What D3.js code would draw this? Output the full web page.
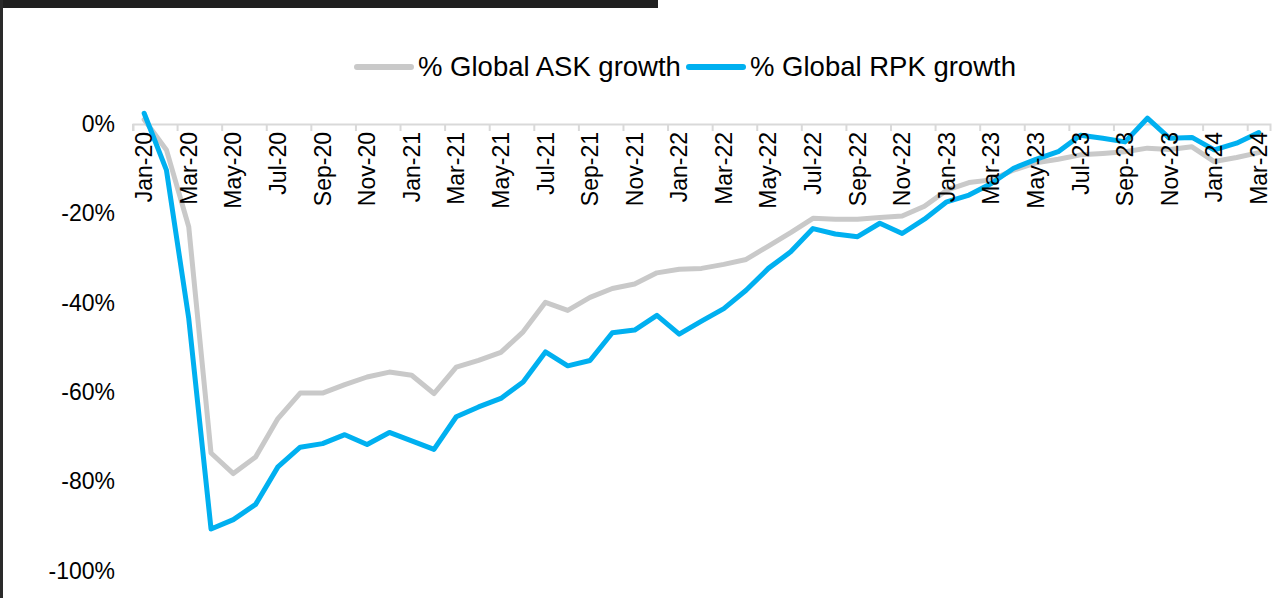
<!DOCTYPE html>
<html>
<head>
<meta charset="utf-8">
<script src="https://cdn.jsdelivr.net/npm/d3@7"></script>
<style>
  body { margin: 0; background: #fff; }
  svg { display: block; font-family: "Liberation Sans", Arial, sans-serif; }
</style>
</head>
<body>
<div id="chart"></div>
<script>
// months Jan-20 .. Mar-24
var months = ["Jan-20","Feb-20","Mar-20","Apr-20","May-20","Jun-20","Jul-20","Aug-20","Sep-20","Oct-20","Nov-20","Dec-20",
  "Jan-21","Feb-21","Mar-21","Apr-21","May-21","Jun-21","Jul-21","Aug-21","Sep-21","Oct-21","Nov-21","Dec-21",
  "Jan-22","Feb-22","Mar-22","Apr-22","May-22","Jun-22","Jul-22","Aug-22","Sep-22","Oct-22","Nov-22","Dec-22",
  "Jan-23","Feb-23","Mar-23","Apr-23","May-23","Jun-23","Jul-23","Aug-23","Sep-23","Oct-23","Nov-23","Dec-23",
  "Jan-24","Feb-24","Mar-24"];

var askGrowth = [1.0,-5.8,-23.0,-73.6,-78.2,-74.5,-65.9,-60.2,-60.2,-58.3,-56.6,-55.5,
  -56.2,-60.3,-54.4,-52.9,-51.1,-46.5,-39.9,-41.7,-38.8,-36.8,-35.8,-33.3,
  -32.5,-32.3,-31.4,-30.3,-27.3,-24.3,-21.1,-21.3,-21.3,-20.9,-20.6,-18.4,
  -14.8,-13.1,-12.5,-10.3,-8.7,-7.9,-6.9,-6.6,-6.2,-5.4,-5.7,-5.1,
  -8.4,-7.5,-6.4];

var rpkGrowth = [2.4,-10.3,-43.5,-90.6,-88.5,-85.1,-76.7,-72.3,-71.5,-69.5,-71.7,-69.0,
  -70.9,-72.8,-65.5,-63.3,-61.4,-57.7,-51.0,-54.1,-52.9,-46.7,-46.1,-42.8,
  -47.0,-44.1,-41.3,-37.2,-32.3,-28.6,-23.4,-24.6,-25.2,-22.2,-24.5,-21.3,
  -17.4,-15.9,-13.3,-9.9,-7.9,-6.2,-2.5,-3.2,-4.0,1.3,-3.2,-3.0,
  -5.8,-4.3,-1.9];

var yTicks = [0, -20, -40, -60, -80, -100];
var seriesNames = ["% Global ASK growth", "% Global RPK growth"];
var seriesColors = ["#c9c9c9", "#00b0f0"];

var W = 1277, H = 598;

var svg = d3.select("#chart").append("svg")
    .attr("width", W)
    .attr("height", H);

// screenshot edges
svg.append("rect").attr("x", 0).attr("y", 0).attr("width", 658).attr("height", 8).attr("fill", "#202020");
svg.append("rect").attr("x", 0).attr("y", 0).attr("width", 3).attr("height", H).attr("fill", "#2a2a2a");

var x = d3.scaleBand().domain(months).range([133, 1270]).padding(0);
var y = d3.scaleLinear().domain([-100, 0]).range([571, 124]);
var bw = x.bandwidth();

// y labels
svg.append("g")
    .attr("transform", "translate(115,0)")
    .call(d3.axisLeft(y).tickValues(yTicks).tickSize(0).tickPadding(0)
          .tickFormat(function(d) { return d + "%"; }))
    .call(function(g) {
        g.select(".domain").remove();
        g.selectAll("text").attr("font-size", 23).attr("fill", "#000")
            .attr("font-family", "Liberation Sans, Arial, sans-serif");
    });

// x axis line + ticks at 0% (under the series)
var labelMonths = months.filter(function(d, i) { return i % 2 === 0; });
svg.append("g")
    .attr("transform", "translate(0," + y(0) + ")")
    .call(d3.axisBottom(x).tickValues(labelMonths).tickSizeOuter(0).tickSize(7).tickFormat(""))
    .call(function(g) {
        g.select(".domain").attr("stroke", "#d9d9d9").attr("stroke-width", 2);
        g.selectAll(".tick line").attr("stroke", "#d9d9d9").attr("stroke-width", 2)
            .attr("x1", -bw / 2).attr("x2", -bw / 2);
    });

var line = d3.line()
    .x(function(d, i) { return x(months[i]) + bw / 2; })
    .y(function(d) { return y(d); });

[askGrowth, rpkGrowth].forEach(function(s, k) {
    svg.append("path")
        .datum(s)
        .attr("fill", "none")
        .attr("stroke", seriesColors[k])
        .attr("stroke-width", 5)
        .attr("stroke-linejoin", "round")
        .attr("stroke-linecap", "round")
        .attr("d", line);
});

// x labels drawn over the lines
svg.append("g")
    .attr("transform", "translate(0," + y(0) + ")")
    .call(d3.axisBottom(x).tickValues(labelMonths).tickSize(0).tickPadding(0))
    .call(function(g) {
        g.select(".domain").remove();
        g.selectAll(".tick text")
            .attr("font-size", 23).attr("fill", "#000")
            .attr("font-family", "Liberation Sans, Arial, sans-serif")
            .attr("transform", "rotate(-90)")
            .attr("text-anchor", "end")
            .attr("x", -8).attr("y", 0).attr("dy", "0.35em");
    });

// legend
var legendX = [357, 689];
seriesNames.forEach(function(n, k) {
    var g = svg.append("g").attr("transform", "translate(" + legendX[k] + ",67)");
    g.append("line").attr("x1", 0).attr("x2", 54).attr("y1", 0).attr("y2", 0)
        .attr("stroke", seriesColors[k]).attr("stroke-width", 6).attr("stroke-linecap", "round");
    g.append("text").attr("x", 61).attr("y", 8.5)
        .attr("font-size", 27.5).attr("fill", "#000").text(n);
});
</script>
</body>
</html>
